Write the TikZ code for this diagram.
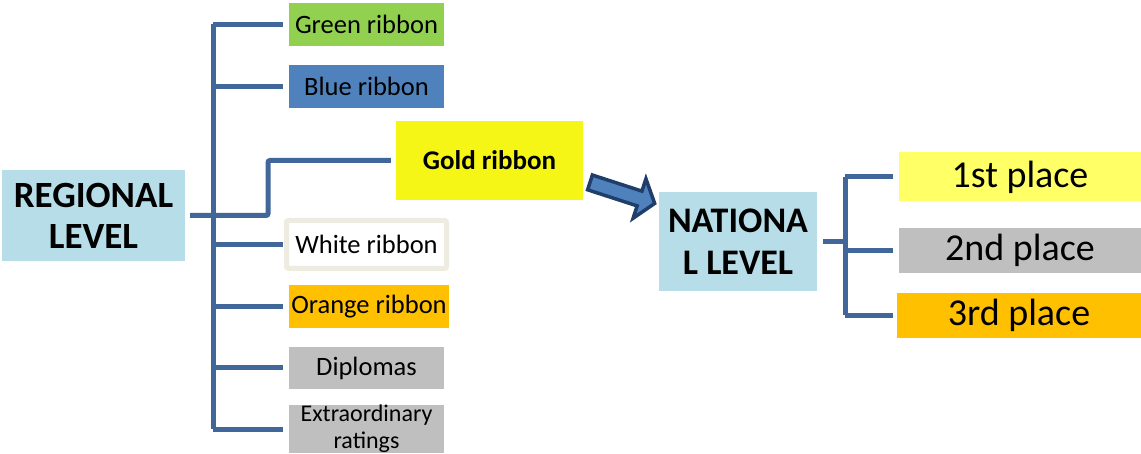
\documentclass[tikz,border=0pt]{standalone}
\usepackage{fontspec}
\setmainfont{Carlito}
\usepackage{tikz}
\usetikzlibrary{shapes, arrows}
\definecolor{levelblue}{HTML}{B7DEE8}
\definecolor{ribgreen}{HTML}{92D050}
\definecolor{ribblue}{HTML}{4F81BD}
\definecolor{ribgold}{HTML}{F5F516}
\definecolor{ribbeige}{HTML}{EEECE1}
\definecolor{riborange}{HTML}{FFC000}
\definecolor{ribgray}{HTML}{BFBFBF}
\definecolor{placeyellow}{HTML}{FFFF66}
\definecolor{treeblue}{HTML}{41679A}
\definecolor{arrownavy}{HTML}{1F3F6A}

\begin{document}
\begin{tikzpicture}[x=1pt, y=-1pt,
    box/.style={rectangle, inner sep=0pt, align=center, text=black},
    level/.style={box, fill=levelblue, font=\fontsize{37}{41}\selectfont\bfseries},
    ribbon/.style={box, minimum width=155pt, minimum height=43pt, font=\fontsize{26.5}{30}\selectfont},
    place/.style={box, minimum width=242pt, minimum height=45pt, font=\fontsize{38}{40}\selectfont},
    tree/.style={treeblue, line width=5pt, rounded corners=2pt}]
      \useasboundingbox (0,0) rectangle (1141,454);
      % regional level
      \node[level, minimum width=183pt, minimum height=91pt] (regional) at (93.5, 215.5) {REGIONAL\\LEVEL};
      \node[ribbon, fill=ribgreen] (green) at (366.5, 24.5) {Green ribbon};
      \node[ribbon, fill=ribblue] (blue) at (366.5, 86.5) {Blue ribbon};
      \node[box, fill=ribgold, minimum width=187pt, minimum height=79pt, font=\fontsize{27}{30}\selectfont\bfseries] (gold) at (489.5, 160.5) {Gold ribbon};
      \node[ribbon, fill=white, draw=ribbeige, line width=5pt, rounded corners=2pt, minimum width=160pt, minimum height=48pt] (white) at (366.5, 244.5) {White ribbon};
      \node[ribbon, fill=riborange, minimum width=160pt] (orange) at (369, 306.5) {Orange ribbon};
      \node[ribbon, fill=ribgray, minimum height=42pt] (diplomas) at (366.5, 368) {Diplomas};
      \node[ribbon, fill=ribgray, minimum height=44pt, font=\fontsize{24}{27}\selectfont] (extra) at (366.5, 429) {Extraordinary\\ratings};
      \coordinate (rtrunk) at (213, 215.5);
      \coordinate (gjoint) at (268, 215.5);
      \coordinate (rend) at (283, 0);
      \draw[tree] (rtrunk |- green.west) -- (rtrunk |- extra.west);
      \foreach \r in {green, blue, white, orange, diplomas, extra}
        \draw[tree] (rtrunk |- \r.west) -- (\r.west -| rend);
      \draw[tree, shorten <=5pt] (regional.east) -- (gjoint) |- ([xshift=-5pt]gold.west);
      % national level
      \node[level, minimum width=158pt, minimum height=99pt, font=\fontsize{36}{42}\selectfont\bfseries] (national) at (738, 241.5) {NATIONA\\L LEVEL};
      \node[place, fill=placeyellow, minimum height=49pt] (first) at (1020, 177) {1st place};
      \node[place, fill=ribgray] (second) at (1020, 250.5) {2nd place};
      \node[place, fill=riborange, minimum width=244pt] (third) at (1019, 315.5) {3rd place};
      \coordinate (ntrunk) at (845, 241.5);
      \coordinate (nend) at (893, 0);
      \draw[tree, shorten <=6pt] (national.east) -- (ntrunk);
      \draw[tree] (ntrunk |- first.west) -- (ntrunk |- third.west);
      \foreach \p in {first, second, third}
        \draw[tree] (ntrunk |- \p.west) -- (\p.west -| nend);
      % block arrow gold -> national
      \node[single arrow, draw=arrownavy, fill=ribblue, line width=3.5pt, inner xsep=0pt, inner ysep=6pt,
            minimum height=68pt, single arrow head extend=13pt, single arrow tip angle=105,
            rotate=-18] (advance) at (619.5, 192) {};
  \end{tikzpicture}
\end{document}
